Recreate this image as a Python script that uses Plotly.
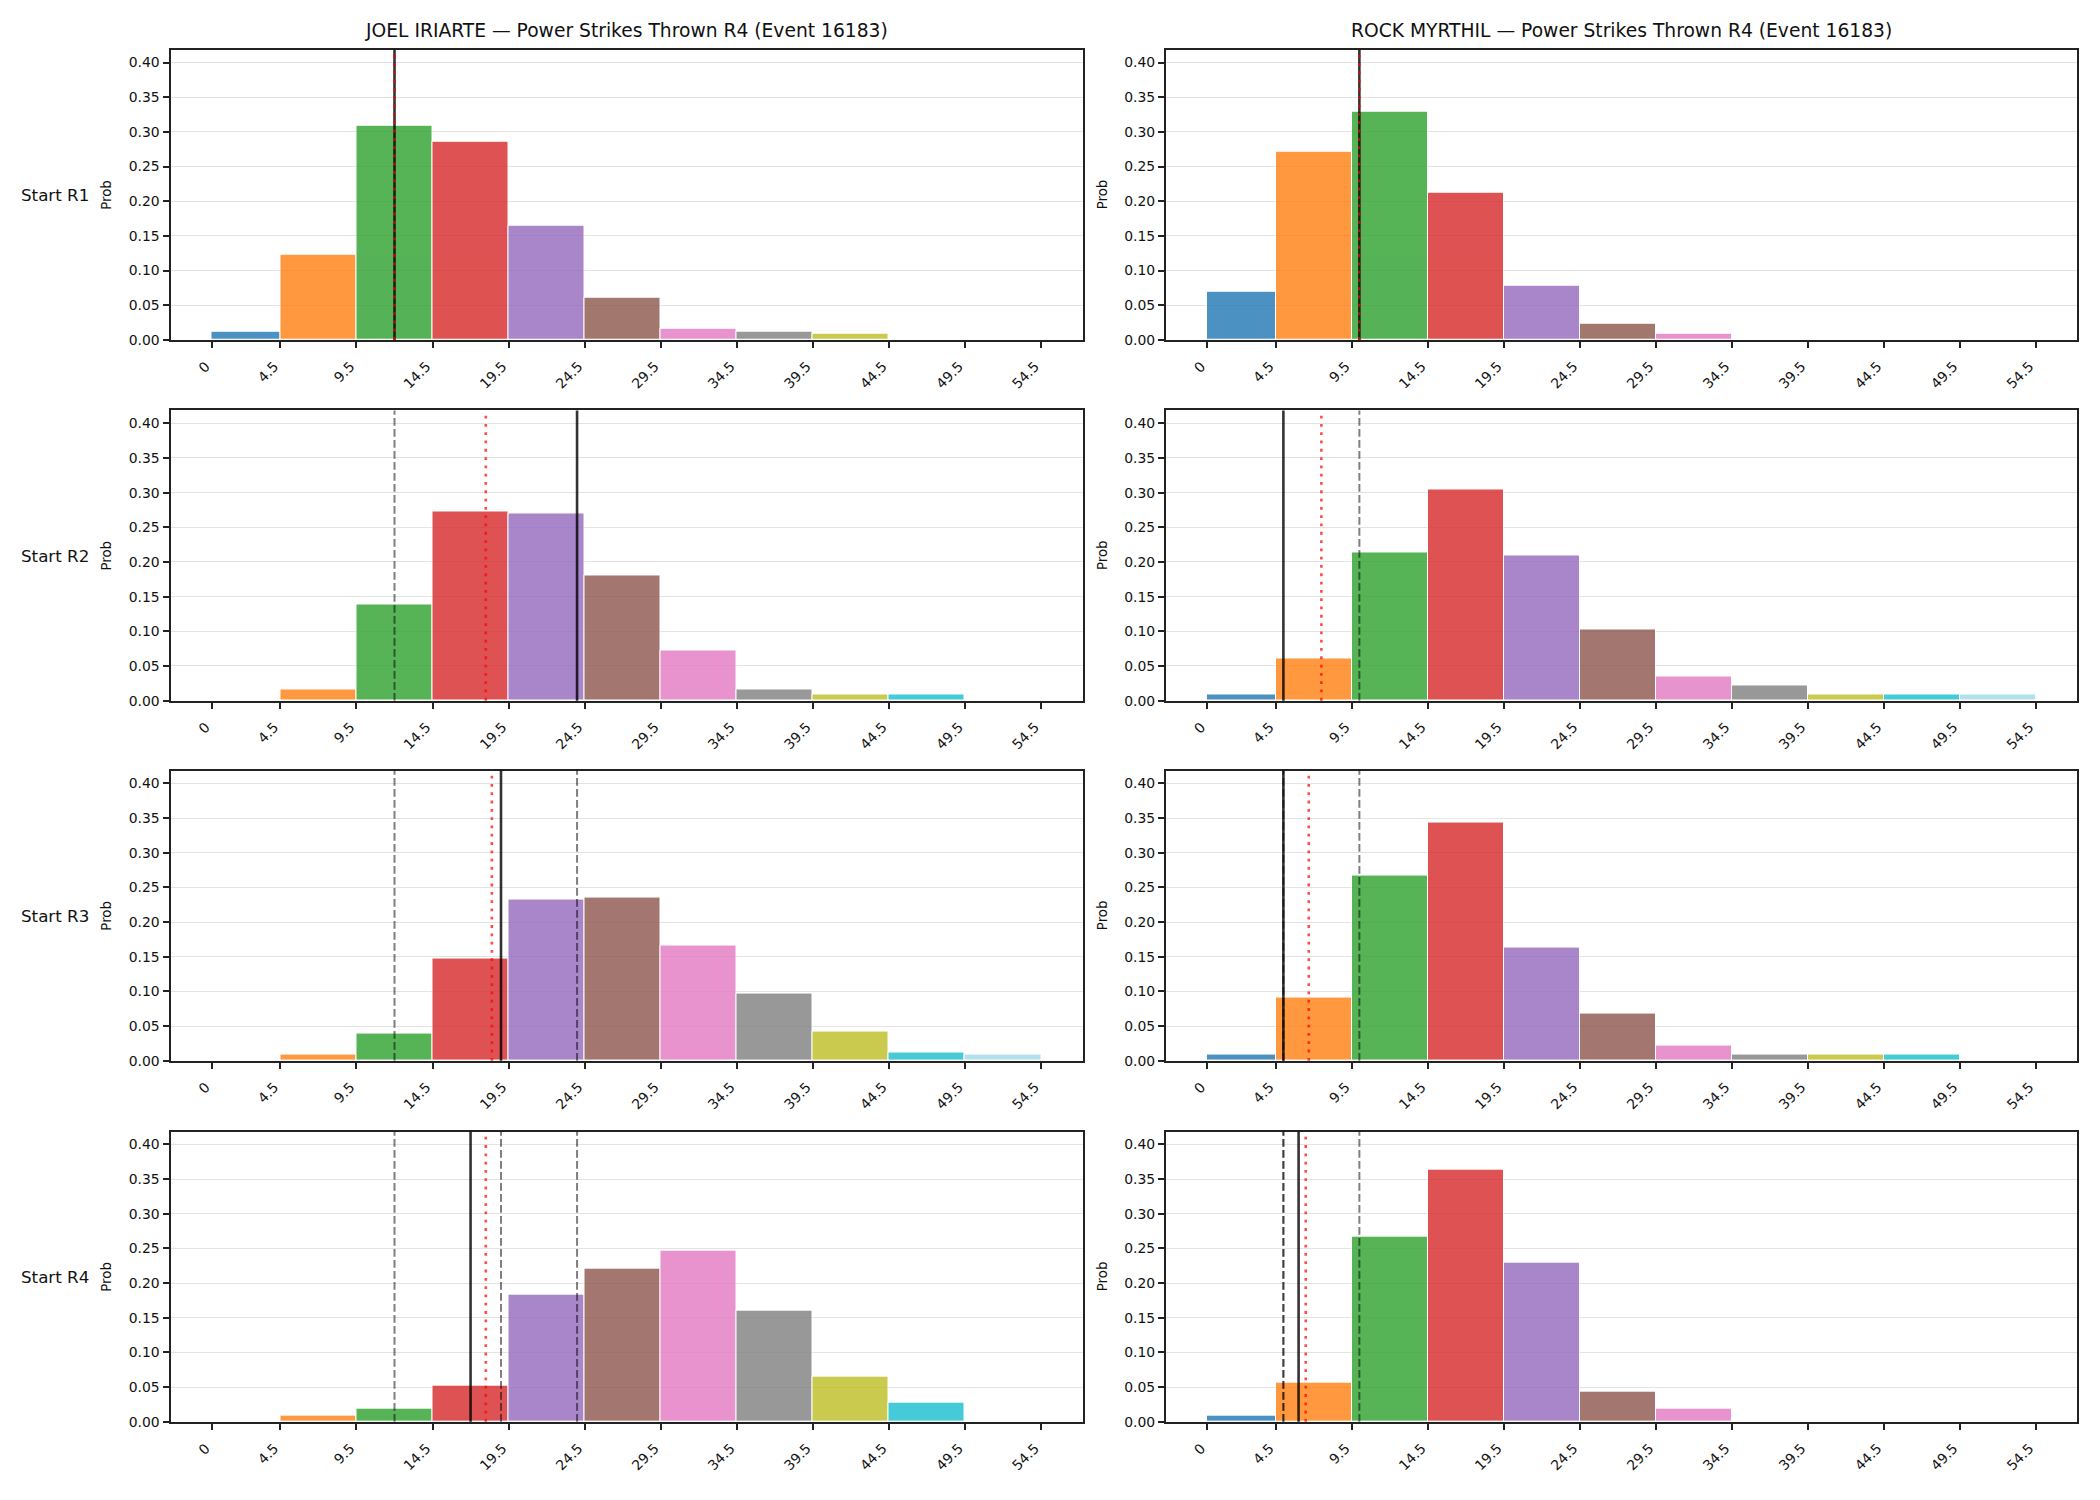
import plotly.graph_objects as go

W, H = 2100, 1500

fighters = ["JOEL IRIARTE", "ROCK MYRTHIL"]
title_suffix = " — Power Strikes Thrown R4 (Event 16183)"
row_labels = ["Start R1", "Start R2", "Start R3", "Start R4"]

bin_edges = [0, 4.5, 9.5, 14.5, 19.5, 24.5, 29.5, 34.5, 39.5, 44.5, 49.5, 54.5]
tick_vals = [0, 4.5, 9.5, 14.5, 19.5, 24.5, 29.5, 34.5, 39.5, 44.5, 49.5, 54.5]
tick_text = ["0", "4.5", "9.5", "14.5", "19.5", "24.5", "29.5", "34.5", "39.5", "44.5", "49.5", "54.5"]

# Probabilities per bin, rows = Start R1..R4
iriarte_r1 = [0.0116, 0.1229, 0.3094, 0.2863, 0.1648, 0.0607, 0.0159, 0.0116, 0.0087, 0.0, 0.0]
iriarte_r2 = [0.0, 0.0154, 0.1383, 0.2728, 0.2699, 0.1802, 0.0718, 0.0154, 0.0082, 0.0082, 0.0]
iriarte_r3 = [0.0, 0.0082, 0.0386, 0.1470, 0.2323, 0.2352, 0.1658, 0.0964, 0.0414, 0.0111, 0.0082]
iriarte_r4 = [0.0, 0.0082, 0.0183, 0.0516, 0.1836, 0.2212, 0.2472, 0.1600, 0.0646, 0.0270, 0.0]

myrthil_r1 = [0.0694, 0.2713, 0.3292, 0.2120, 0.0781, 0.0231, 0.0087, 0.0, 0.0, 0.0, 0.0]
myrthil_r2 = [0.0082, 0.0602, 0.2135, 0.3046, 0.2092, 0.1022, 0.0342, 0.0212, 0.0082, 0.0082, 0.0082]
myrthil_r3 = [0.0082, 0.0906, 0.2670, 0.3441, 0.1634, 0.0680, 0.0212, 0.0082, 0.0082, 0.0082, 0.0]
myrthil_r4 = [0.0082, 0.0564, 0.2670, 0.3639, 0.2294, 0.0434, 0.0183, 0.0, 0.0, 0.0, 0.0]

# Vertical reference lines
iriarte_actual = [12, 24, 19, 17]          # black solid
iriarte_center = [12, 18, 18.4, 18]        # red dotted
myrthil_actual = [10, 5, 5, 6]
myrthil_center = [10, 7.5, 6.67, 6.47]

bar_colors = ["#1f77b4", "#ff7f0e", "#2ca02c", "#d62728", "#9467bd", "#8c564b",
              "#e377c2", "#7f7f7f", "#bcbd22", "#17becf", "#9edae5"]

probs = [
    [iriarte_r1, iriarte_r2, iriarte_r3, iriarte_r4],
    [myrthil_r1, myrthil_r2, myrthil_r3, myrthil_r4],
]
actuals = [iriarte_actual, myrthil_actual]
centers = [iriarte_center, myrthil_center]

y_max = 0.4185
x_lo, x_hi = -2.725, 57.225

# Layout geometry (pixels)
col_x = [(170.5, 1082.5), (1166.0, 2077.0)]
row_top = [50.0, 412.7, 774.7, 1137.7]
row_h = 291.7

FONT = "DejaVu Sans"

centers_x = [(bin_edges[i] + bin_edges[i + 1]) / 2 for i in range(len(bin_edges) - 1)]
widths = [bin_edges[i + 1] - bin_edges[i] for i in range(len(bin_edges) - 1)]

fig = go.Figure()
layout = {}
shapes = []
annotations = []

for r in range(4):
    for c in range(2):
        k = r * 2 + c + 1
        xa = "x" if k == 1 else f"x{k}"
        ya = "y" if k == 1 else f"y{k}"
        fig.add_trace(go.Bar(
            x=centers_x, y=probs[c][r], width=widths,
            marker=dict(color=bar_colors, line=dict(color="white", width=1)),
            opacity=0.8, xaxis=xa, yaxis=ya, showlegend=False,
            hoverinfo="skip",
        ))
        x0p, x1p = col_x[c]
        top = row_top[r]
        bot = top + row_h
        layout[f"xaxis{k}"] = dict(
            domain=[x0p / W, x1p / W], anchor=ya, range=[x_lo, x_hi],
            tickmode="array", tickvals=tick_vals, ticktext=tick_text,
            tickangle=-45, ticks="outside", ticklen=6, tickwidth=1.5, tickcolor="#222",
            ticklabelshift=-6, ticklabelstandoff=5,
            showgrid=False, zeroline=False, showline=True, mirror=True,
            linecolor="#222", linewidth=2,
            tickfont=dict(family=FONT, size=13.9, color="#111"),
        )
        layout[f"yaxis{k}"] = dict(
            domain=[1 - bot / H, 1 - top / H], anchor=xa, range=[0, y_max],
            tickmode="array", tickvals=[0, 0.05, 0.1, 0.15, 0.2, 0.25, 0.3, 0.35, 0.4],
            tickformat=".2f", ticks="outside", ticklen=6, tickwidth=1.5, tickcolor="#222",
            showgrid=True, gridcolor="#e3e3e3", gridwidth=1,
            zeroline=False, showline=True, mirror=True, linecolor="#222", linewidth=2,
            tickfont=dict(family=FONT, size=13.9, color="#111"),
        )
        xref = xa
        yref = f"{ya} domain"
        # previous rounds (gray dashed)
        for v in actuals[c][:r]:
            shapes.append(dict(type="line", xref=xref, yref=yref, x0=v, x1=v, y0=0, y1=1,
                               line=dict(color="rgba(0,0,0,0.5)", width=2, dash="7.7px,3.3px")))
        # current actual (black solid)
        va = actuals[c][r]
        shapes.append(dict(type="line", xref=xref, yref=yref, x0=va, x1=va, y0=0, y1=1,
                           line=dict(color="rgba(0,0,0,0.8)", width=2.6)))
        # center (red dotted)
        vc = centers[c][r]
        shapes.append(dict(type="line", xref=xref, yref=yref, x0=vc, x1=vc, y0=0, y1=1,
                           line=dict(color="rgba(255,0,0,0.7)", width=2.6, dash="2.8px,5.5px")))
        # Prob label
        annotations.append(dict(
            text="Prob", xref="paper", yref="paper",
            x=(x0p - 63.5) / W, y=1 - (top + row_h / 2) / H,
            xanchor="center", yanchor="middle", textangle=-90, showarrow=False,
            font=dict(family=FONT, size=13.3, color="#111"),
        ))
    annotations.append(dict(
        text=row_labels[r], xref="paper", yref="paper",
        x=91 / W, y=1 - (row_top[r] + row_h / 2) / H,
        xanchor="right", yanchor="middle", showarrow=False,
        font=dict(family=FONT, size=16.7, color="#111"),
    ))

for c in range(2):
    x0p, x1p = col_x[c]
    annotations.append(dict(
        text=fighters[c] + title_suffix, xref="paper", yref="paper",
        x=(x0p + x1p) / 2 / W, y=1 - 30.5 / H,
        xanchor="center", yanchor="middle", showarrow=False,
        font=dict(family=FONT, size=18.7, color="#111"),
    ))

fig.update_layout(
    width=W, height=H, margin=dict(l=0, r=0, t=0, b=0),
    paper_bgcolor="white", plot_bgcolor="white",
    bargap=0, barmode="overlay",
    shapes=shapes, annotations=annotations,
    font=dict(family=FONT),
    **layout,
)

fig.write_html("out.html")
